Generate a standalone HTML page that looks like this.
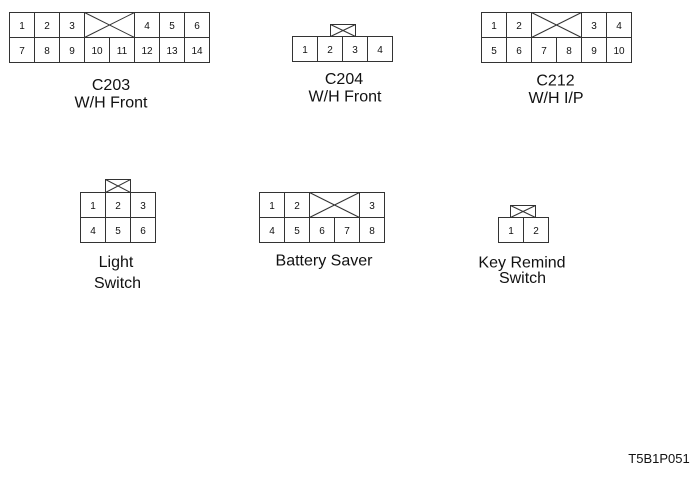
<!DOCTYPE html>
<html>
<head>
<meta charset="utf-8">
<style>
html,body{margin:0;padding:0;background:#fff;}
svg{display:block;}
text{font-family:"Liberation Sans",Arial,sans-serif;fill:#111;}
.d{font-size:10px;text-anchor:middle;}
.l{font-size:16px;text-anchor:middle;}
</style>
</head>
<body>
<svg width="700" height="477" viewBox="0 0 700 477" xmlns="http://www.w3.org/2000/svg">
<g stroke="#333" stroke-width="1" fill="none">
<!-- C203 -->
<rect x="9.5" y="12.5" width="200" height="50"/>
<line x1="9.5" y1="37.5" x2="209.5" y2="37.5"/>
<line x1="34.5" y1="12.5" x2="34.5" y2="62.5"/>
<line x1="59.5" y1="12.5" x2="59.5" y2="62.5"/>
<line x1="84.5" y1="12.5" x2="84.5" y2="62.5"/>
<line x1="109.5" y1="37.5" x2="109.5" y2="62.5"/>
<line x1="134.5" y1="12.5" x2="134.5" y2="62.5"/>
<line x1="159.5" y1="12.5" x2="159.5" y2="62.5"/>
<line x1="184.5" y1="12.5" x2="184.5" y2="62.5"/>
<line x1="84.5" y1="12.5" x2="134.5" y2="37.5"/>
<line x1="134.5" y1="12.5" x2="84.5" y2="37.5"/>
<!-- C204 -->
<rect x="292.5" y="36.5" width="100" height="25"/>
<line x1="317.5" y1="36.5" x2="317.5" y2="61.5"/>
<line x1="342.5" y1="36.5" x2="342.5" y2="61.5"/>
<line x1="367.5" y1="36.5" x2="367.5" y2="61.5"/>
<rect x="330.5" y="24.5" width="25" height="12"/>
<line x1="330.5" y1="24.5" x2="355.5" y2="36.5"/>
<line x1="355.5" y1="24.5" x2="330.5" y2="36.5"/>
<!-- C212 -->
<rect x="481.5" y="12.5" width="150" height="50"/>
<line x1="481.5" y1="37.5" x2="631.5" y2="37.5"/>
<line x1="506.5" y1="12.5" x2="506.5" y2="62.5"/>
<line x1="531.5" y1="12.5" x2="531.5" y2="62.5"/>
<line x1="556.5" y1="37.5" x2="556.5" y2="62.5"/>
<line x1="581.5" y1="12.5" x2="581.5" y2="62.5"/>
<line x1="606.5" y1="12.5" x2="606.5" y2="62.5"/>
<line x1="531.5" y1="12.5" x2="581.5" y2="37.5"/>
<line x1="581.5" y1="12.5" x2="531.5" y2="37.5"/>
<!-- Light Switch -->
<rect x="80.5" y="192.5" width="75" height="50"/>
<line x1="80.5" y1="217.5" x2="155.5" y2="217.5"/>
<line x1="105.5" y1="192.5" x2="105.5" y2="242.5"/>
<line x1="130.5" y1="192.5" x2="130.5" y2="242.5"/>
<rect x="105.5" y="179.5" width="25" height="13"/>
<line x1="105.5" y1="179.5" x2="130.5" y2="192.5"/>
<line x1="130.5" y1="179.5" x2="105.5" y2="192.5"/>
<!-- Battery Saver -->
<rect x="259.5" y="192.5" width="125" height="50"/>
<line x1="259.5" y1="217.5" x2="384.5" y2="217.5"/>
<line x1="284.5" y1="192.5" x2="284.5" y2="242.5"/>
<line x1="309.5" y1="192.5" x2="309.5" y2="242.5"/>
<line x1="334.5" y1="217.5" x2="334.5" y2="242.5"/>
<line x1="359.5" y1="192.5" x2="359.5" y2="242.5"/>
<line x1="309.5" y1="192.5" x2="359.5" y2="217.5"/>
<line x1="359.5" y1="192.5" x2="309.5" y2="217.5"/>
<!-- Key Remind -->
<rect x="498.5" y="217.5" width="50" height="25"/>
<line x1="523.5" y1="217.5" x2="523.5" y2="242.5"/>
<rect x="510.5" y="205.5" width="25" height="12"/>
<line x1="510.5" y1="205.5" x2="535.5" y2="217.5"/>
<line x1="535.5" y1="205.5" x2="510.5" y2="217.5"/>
</g>

<!-- C203 digits -->
<text class="d" x="22" y="29">1</text>
<text class="d" x="47" y="29">2</text>
<text class="d" x="72" y="29">3</text>
<text class="d" x="147" y="29">4</text>
<text class="d" x="172" y="29">5</text>
<text class="d" x="197" y="29">6</text>
<text class="d" x="22" y="54">7</text>
<text class="d" x="47" y="54">8</text>
<text class="d" x="72" y="54">9</text>
<text class="d" x="97" y="54">10</text>
<text class="d" x="122" y="54">11</text>
<text class="d" x="147" y="54">12</text>
<text class="d" x="172" y="54">13</text>
<text class="d" x="197" y="54">14</text>
<text class="l" x="111" y="90">C203</text>
<text class="l" x="111" y="107.5">W/H Front</text>

<!-- C204 digits -->
<text class="d" x="305" y="53">1</text>
<text class="d" x="330" y="53">2</text>
<text class="d" x="355" y="53">3</text>
<text class="d" x="380" y="53">4</text>
<text class="l" x="344" y="84">C204</text>
<text class="l" x="345" y="101.5">W/H Front</text>

<!-- C212 digits -->
<text class="d" x="494" y="29">1</text>
<text class="d" x="519" y="29">2</text>
<text class="d" x="594" y="29">3</text>
<text class="d" x="619" y="29">4</text>
<text class="d" x="494" y="54">5</text>
<text class="d" x="519" y="54">6</text>
<text class="d" x="544" y="54">7</text>
<text class="d" x="569" y="54">8</text>
<text class="d" x="594" y="54">9</text>
<text class="d" x="619" y="54">10</text>
<text class="l" x="555.5" y="85.5">C212</text>
<text class="l" x="556" y="103">W/H I/P</text>

<!-- Light Switch digits -->
<text class="d" x="93" y="209">1</text>
<text class="d" x="118" y="209">2</text>
<text class="d" x="143" y="209">3</text>
<text class="d" x="93" y="234">4</text>
<text class="d" x="118" y="234">5</text>
<text class="d" x="143" y="234">6</text>
<text class="l" x="116" y="267">Light</text>
<text class="l" x="117.5" y="288">Switch</text>

<!-- Battery Saver digits -->
<text class="d" x="272" y="209">1</text>
<text class="d" x="297" y="209">2</text>
<text class="d" x="372" y="209">3</text>
<text class="d" x="272" y="234">4</text>
<text class="d" x="297" y="234">5</text>
<text class="d" x="322" y="234">6</text>
<text class="d" x="347" y="234">7</text>
<text class="d" x="372" y="234">8</text>
<text class="l" x="324" y="265.5">Battery Saver</text>

<!-- Key Remind digits -->
<text class="d" x="511" y="234">1</text>
<text class="d" x="536" y="234">2</text>
<text class="l" x="522" y="267.5">Key Remind</text>
<text class="l" x="522.5" y="283">Switch</text>

<text x="659" y="463" style="font-size:13px;text-anchor:middle;">T5B1P051</text>
</svg>
</body>
</html>
